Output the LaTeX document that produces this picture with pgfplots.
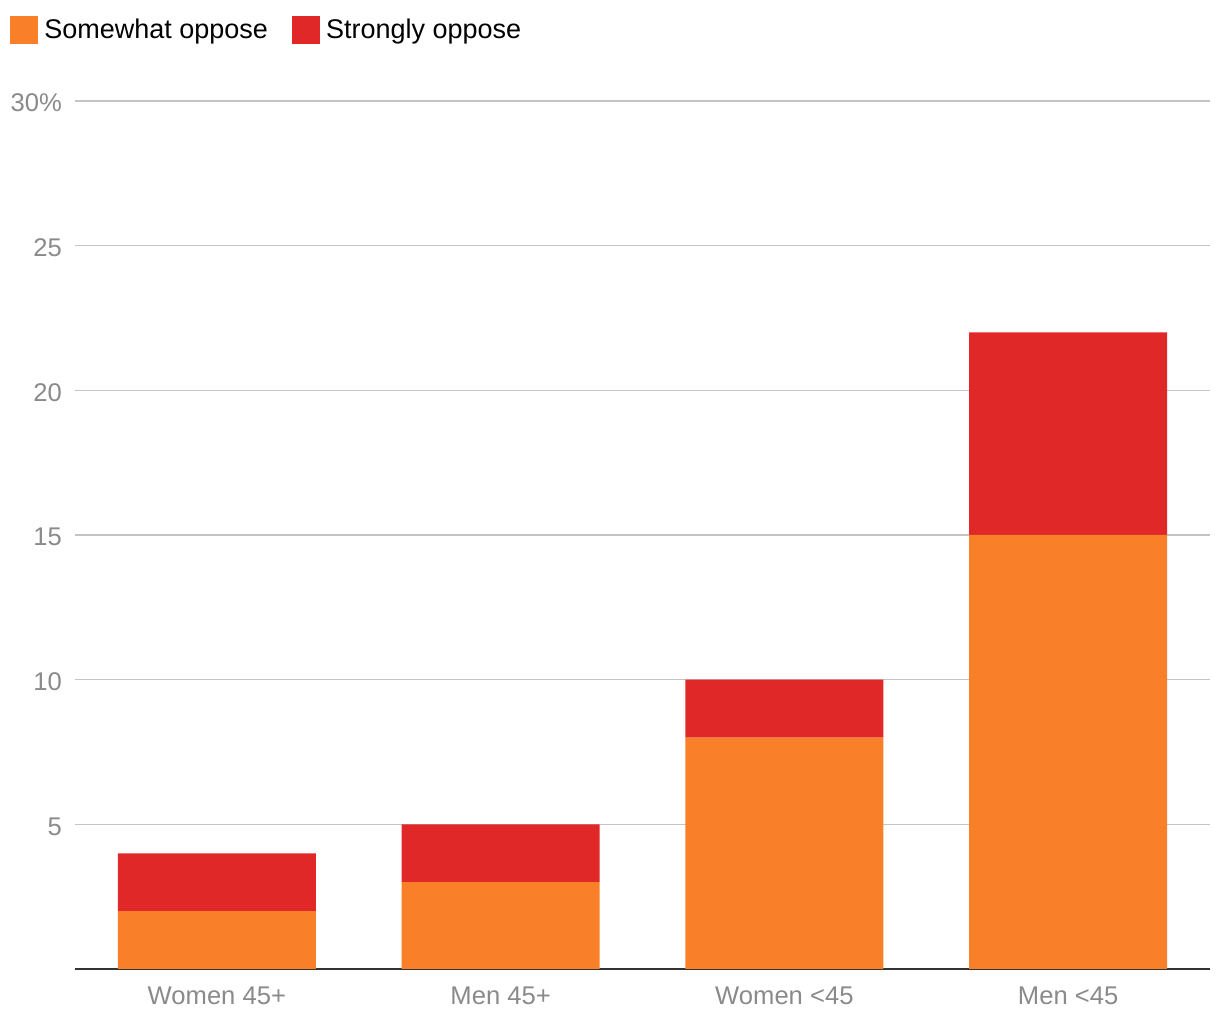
\documentclass[border=0pt]{standalone}
\usepackage{pgfplots}
\pgfplotsset{compat=1.18}
\usepackage{fontspec}
\setmainfont{Liberation Sans}
\definecolor{somewhat}{HTML}{F97F29}
\definecolor{strongly}{HTML}{E02828}
\definecolor{gridgray}{HTML}{C4C4C4}
\definecolor{labgray}{HTML}{8A8A8A}
\begin{document}
\begin{tikzpicture}
\useasboundingbox (-37.5pt,-25.5pt) rectangle (572.5pt,484.5pt);
\begin{axis}[
  scale only axis,
  width=567.5pt, height=434pt,
  xmin=-0.5, xmax=3.5,
  ymin=0, ymax=30,
  ybar stacked,
  bar width=0.697,
  xtick={0,1,2,3},
  xticklabels={Women 45+, Men 45+, Women <45, Men <45},
  ytick={5,10,15,20,25,30},
  yticklabels={5,10,15,20,25,30\%},
  ymajorgrids,
  grid style={gridgray, line width=0.8pt},
  major tick length=0pt,
  axis lines*=left,
  y axis line style={draw=none},
  x axis line style={draw=black!80, line width=1pt},
  /pgf/number format/assume math mode=true,
  tick label style={font=\fontsize{12.8}{14}\selectfont, text=labgray},
  xticklabel style={yshift=-5.5pt},
  yticklabel style={xshift=-3pt, yshift=-1pt},
  legend columns=2,
  legend style={at={(axis description cs:0,1)}, anchor=west,
    xshift=-32.5pt, yshift=35.5pt, draw=none, fill=none, inner sep=0pt,
    font=\fontsize{13.5}{15}\selectfont,
    nodes={inner sep=1.5pt},
    /tikz/every even column/.append style={column sep=10.5pt}},
  legend image code/.code={\fill[#1] (0pt,-7pt) rectangle (14pt,7pt);},
  clip=false,
]
\addplot[fill=somewhat, draw=none] coordinates {(0,2) (1,3) (2,8) (3,15)};
\addplot[fill=strongly, draw=none] coordinates {(0,2) (1,2) (2,2) (3,7)};
\legend{\hspace{1.5pt}Somewhat oppose, \hspace{1.5pt}Strongly oppose}
\end{axis}
\end{tikzpicture}
\end{document}
